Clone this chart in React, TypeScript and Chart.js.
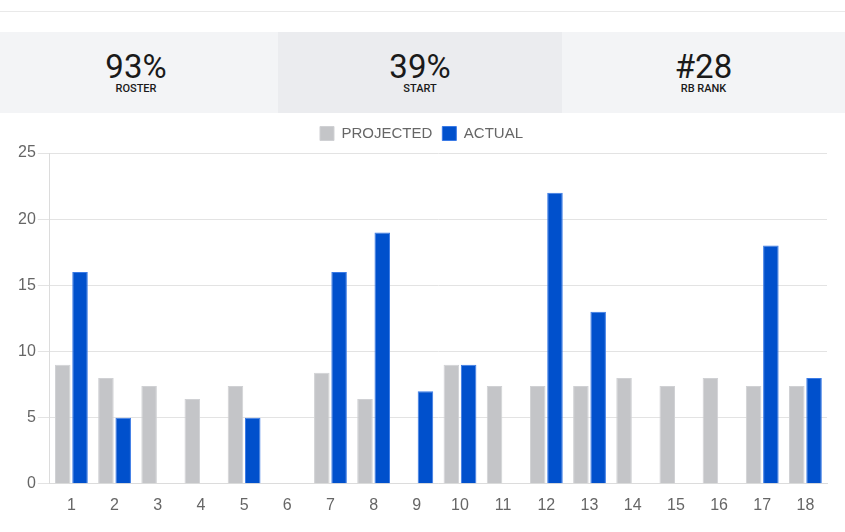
import React, { useEffect, useRef } from "react";
import { Chart, registerables } from "chart.js";

Chart.register(...registerables);

const weeks = ["1","2","3","4","5","6","7","8","9","10","11","12","13","14","15","16","17","18"];
const projected = [9, 8, 7.4, 6.4, 7.4, 0, 8.4, 6.4, 0, 9, 7.4, 7.4, 7.4, 8, 7.4, 8, 7.4, 7.4];
const actual = [16, 5, 0, 0, 5, 0, 16, 19, 7, 9, 0, 22, 13, 0, 0, 0, 18, 8];
const statValues = ["93%", "39%", "#28"];
const statLabels = ["ROSTER", "START", "RB RANK"];
const statBgs = ["#f3f4f6", "#ebecef", "#f3f4f6"];
const statWidths = [278, 284, 283];

const FONT = "'Liberation Sans', Arial, sans-serif";

const legendMargin = {
  id: "legendMargin",
  beforeInit(chart: any) {
    const origFit = chart.legend.fit;
    chart.legend.fit = function () {
      origFit.bind(chart.legend)();
      this.height += 2;
    };
  },
};

export default function App() {
  const ref = useRef<HTMLCanvasElement>(null);
  useEffect(() => {
    document.body.style.margin = "0";
    const chart = new Chart(ref.current!, {
      type: "bar",
      data: {
        labels: weeks,
        datasets: [
          {
            label: "PROJECTED",
            data: projected,
            backgroundColor: "#c4c5c8",
            borderColor: "#d0d1d4",
            borderWidth: 1,
          },
          {
            label: "ACTUAL",
            data: actual,
            backgroundColor: "#0050cc",
            borderColor: "#3a7ae6",
            borderWidth: 1,
          },
        ],
      },
      plugins: [legendMargin],
      options: {
        animation: false,
        responsive: true,
        maintainAspectRatio: false,
        layout: { padding: { top: 3, right: 18, bottom: 13, left: 16 } },
        plugins: {
          legend: {
            position: "top",
            labels: {
              boxWidth: 14,
              boxHeight: 14,
              color: "#666",
              font: { family: FONT, size: 15 },
              padding: 10,
            },
          },
          tooltip: { enabled: false },
        },
        scales: {
          x: {
            grid: { display: false },
            border: { display: true, color: "#dcdcdc" },
            ticks: {
              color: "#666",
              padding: 4,
              font: { family: FONT, size: 16 },
            },
          },
          y: {
            min: 0,
            max: 25,
            ticks: {
              stepSize: 5,
              color: "#666",
              padding: 2,
              font: { family: FONT, size: 16 },
            },
            grid: { color: "#e3e3e3", tickLength: 12 },
            border: { display: true, color: "#dcdcdc" },
          },
        },
      },
    });
    return () => chart.destroy();
  }, []);

  return (
    <div style={{ width: 845, fontFamily: FONT }}>
      <div style={{ height: 11, borderBottom: "1px solid #e9e9e9" }} />
      <div style={{ height: 20 }} />
      <div style={{ display: "flex", height: 81 }}>
        {statValues.map((v, i) => (
          <div
            key={i}
            style={{
              width: statWidths[i],
              boxSizing: "border-box",
              paddingRight: i === 0 ? 6 : 0,
              flex: "0 0 auto",
              background: statBgs[i],
              display: "flex",
              flexDirection: "column",
              alignItems: "center",
              color: "#1a1a1a",
            }}
          >
            <div style={{ fontFamily: "Roboto, sans-serif", fontSize: 33, lineHeight: "33px", marginTop: 18 }}>{v}</div>
            <div style={{ fontFamily: "Roboto, sans-serif", fontWeight: 500, fontSize: 11, lineHeight: "12px", marginTop: 0 }}>{statLabels[i]}</div>
          </div>
        ))}
      </div>
      <div style={{ position: "relative", height: 419 }}>
        <canvas ref={ref} />
      </div>
    </div>
  );
}
